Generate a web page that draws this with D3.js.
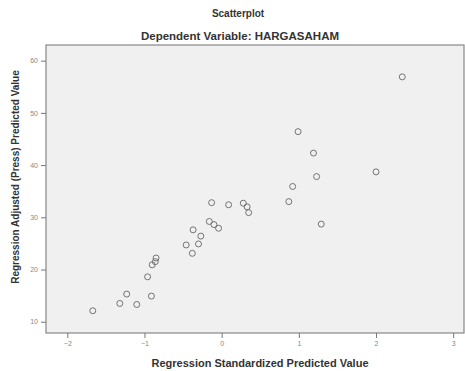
<!DOCTYPE html>
<html>
<head>
<meta charset="utf-8">
<script src="https://cdn.jsdelivr.net/npm/d3@7"></script>
<style>
  body { margin: 0; background: #fff; }
  text { font-family: "Liberation Sans", Arial, sans-serif; }
</style>
</head>
<body>
<svg id="chart" width="465" height="371"></svg>
<script>
// standardized predicted value (x) vs adjusted (press) predicted value (y)
const stdPredicted = [2.34, 0.99, 1.19, 1.23, 2.00, 0.92, 0.87, 1.29, 0.28, 0.33,
  0.35, 0.09, -0.13, -0.16, -0.10, -0.04, -0.37, -0.27, -0.46, -0.30,
  -0.38, -0.85, -0.86, -0.90, -0.96, -1.23, -0.91, -1.32, -1.10, -1.67];
const adjPredicted = [56.9, 46.4, 42.3, 37.8, 38.7, 35.9, 33.0, 28.7, 32.7, 32.0,
  30.9, 32.4, 32.8, 29.2, 28.6, 27.9, 27.6, 26.4, 24.7, 24.9,
  23.1, 22.2, 21.5, 20.9, 18.6, 15.3, 14.9, 13.5, 13.3, 12.1];
const xTicks = [-2, -1, 0, 1, 2, 3];
const yTicks = [10, 20, 30, 40, 50, 60];

const svg = d3.select("#chart");
const plotL = 46, plotT = 45, plotR = 464, plotB = 333;

const x = d3.scaleLinear().domain([-2.276, 3.14]).range([plotL, plotR]);
const y = d3.scaleLinear().domain([7.84, 63.0]).range([plotB, plotT]);

// plot background
svg.append("rect")
  .attr("x", plotL).attr("y", plotT)
  .attr("width", plotR - plotL).attr("height", plotB - plotT)
  .attr("fill", "#f0f0f0")
  .attr("stroke", "#888")
  .attr("stroke-width", 1.2);

// axes
const xAxis = svg.append("g")
  .attr("transform", `translate(0,${plotB})`)
  .call(d3.axisBottom(x).tickValues(xTicks).tickFormat(d3.format("d")).tickSize(5).tickPadding(3));
const yAxis = svg.append("g")
  .attr("transform", `translate(${plotL},0)`)
  .call(d3.axisLeft(y).tickValues(yTicks).tickFormat(d3.format("d")).tickSize(5).tickPadding(3));

[xAxis, yAxis].forEach(g => {
  g.select(".domain").remove();
  g.selectAll("line").attr("stroke", "#777");
  g.selectAll("text").attr("fill", "#888").style("font-size", "7px");
});

// points
svg.selectAll("circle.pt")
  .data(stdPredicted)
  .enter().append("circle")
  .attr("class", "pt")
  .attr("cx", d => x(d))
  .attr("cy", (d, i) => y(adjPredicted[i]))
  .attr("r", 3)
  .attr("fill", "none")
  .attr("stroke", "#666")
  .attr("stroke-width", 0.9);

// titles
svg.append("text").attr("x", 238).attr("y", 17)
  .attr("text-anchor", "middle")
  .style("font-size", "10px").style("font-weight", "bold").attr("fill", "#333")
  .text("Scatterplot");
svg.append("text").attr("x", 240).attr("y", 40)
  .attr("text-anchor", "middle")
  .style("font-size", "11.5px").style("font-weight", "bold").attr("fill", "#333")
  .text("Dependent Variable: HARGASAHAM");

svg.append("text").attr("x", 260).attr("y", 367)
  .attr("text-anchor", "middle")
  .style("font-size", "11px").style("font-weight", "bold").attr("fill", "#333")
  .text("Regression Standardized Predicted Value");

svg.append("text")
  .attr("transform", "translate(19,177) rotate(-90)")
  .attr("text-anchor", "middle")
  .style("font-size", "10px").style("font-weight", "bold").attr("fill", "#333")
  .text("Regression Adjusted (Press) Predicted Value");
</script>
</body>
</html>
